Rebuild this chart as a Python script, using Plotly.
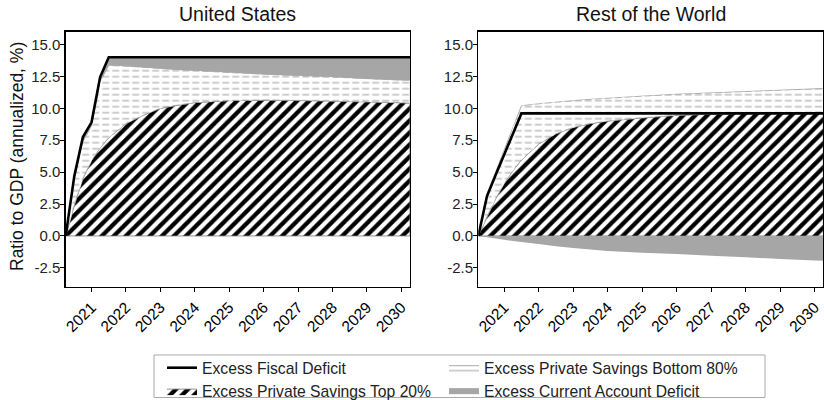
import plotly.graph_objects as go

# ---------------- data ----------------
years = [2020.25, 2020.5, 2020.75, 2021.0, 2021.25, 2021.5, 2022.0, 2022.5,
         2023.0, 2023.5, 2024.0, 2025.0, 2026.0, 2027.0, 2028.0, 2029.0,
         2030.0, 2030.25]

# United States
us_fiscal = [0, 4.7, 7.75, 8.9, 12.45, 14.0, 14.0, 14.0, 14.0, 14.0, 14.0,
             14.0, 14.0, 14.0, 14.0, 14.0, 14.0, 14.0]
us_top20 = [0, 2.4, 4.5, 5.9, 6.9, 7.7, 8.8, 9.45, 10.0, 10.25, 10.45, 10.6,
            10.65, 10.65, 10.6, 10.5, 10.45, 10.4]
us_total = [0, 4.4, 7.4, 8.6, 12.1, 13.35, 13.3, 13.2, 13.1, 13.0, 12.95,
            12.8, 12.65, 12.55, 12.45, 12.3, 12.2, 12.2]

# Rest of the World
row_fiscal = [0, 3.1, 4.75, 6.4, 8.0, 9.6, 9.6, 9.6, 9.6, 9.6, 9.6, 9.6,
              9.6, 9.6, 9.6, 9.6, 9.6, 9.6]
row_top20 = [0, 1.5, 2.9, 4.1, 5.1, 5.95, 7.2, 8.0, 8.5, 8.8, 9.0, 9.25,
             9.45, 9.55, 9.6, 9.65, 9.7, 9.7]
row_total = [0, 3.3, 5.0, 6.7, 8.45, 10.2, 10.35, 10.5, 10.6, 10.7, 10.8,
             10.95, 11.1, 11.2, 11.3, 11.4, 11.5, 11.55]
row_ca = [0, -0.1, -0.2, -0.3, -0.4, -0.47, -0.63, -0.8, -0.95, -1.07, -1.17,
          -1.32, -1.42, -1.55, -1.67, -1.8, -1.92, -1.95]
zeros = [0] * len(years)

x_tickvals = [2021, 2022, 2023, 2024, 2025, 2026, 2027, 2028, 2029, 2030]
x_ticktext = ["2021", "2022", "2023", "2024", "2025", "2026", "2027", "2028",
              "2029", "2030"]
y_tickvals = [-2.5, 0, 2.5, 5, 7.5, 10, 12.5, 15]
y_ticktext = ["-2.5", "0.0", "2.5", "5.0", "7.5", "10.0", "12.5", "15.0"]

panel_titles = ["United States", "Rest of the World"]
legend_names = ["Excess Fiscal Deficit", "Excess Private Savings Bottom 80%",
                "Excess Private Savings Top 20%", "Excess Current Account Deficit"]

FONT = "Liberation Sans, Arial, sans-serif"
GRAY = "#a6a6a6"

fig = go.Figure()


def band(lower, upper):
    return years + years[::-1], upper + lower[::-1]


def add_panel(xa, ya, fiscal, top20, total, ca_lower, ca_upper, show):
    # Top 20% (hatched)
    px_, py_ = band(zeros, top20)
    fig.add_trace(go.Scatter(
        x=px_, y=py_, xaxis=xa, yaxis=ya, mode="lines", fill="toself",
        line=dict(color="#777777", width=0.8),
        fillcolor="white",
        fillpattern=dict(shape="/", fgcolor="black", bgcolor="white",
                         size=8.5, solidity=0.5),
        name=legend_names[2], legend="legend", legendrank=2,
        showlegend=show, hoverinfo="skip"))
    # Bottom 80% (dashed)
    px_, py_ = band(top20, total)
    fig.add_trace(go.Scatter(
        x=px_, y=py_, xaxis=xa, yaxis=ya, mode="lines", fill="toself",
        line=dict(color="#999999", width=0.8),
        fillcolor="white",
        fillpattern=dict(shape="-", fgcolor="#bcbcbc", bgcolor="white",
                         size=6, solidity=0.25),
        name=legend_names[1], legend="legend2", legendrank=1,
        showlegend=show, hoverinfo="skip"))
    # break the horizontal lines into dashes
    fig.add_trace(go.Scatter(
        x=px_, y=py_, xaxis=xa, yaxis=ya, mode="none", fill="toself",
        fillcolor="rgba(0,0,0,0)",
        fillpattern=dict(shape="|", fgcolor="white", bgcolor="rgba(0,0,0,0)",
                         size=10, solidity=0.3),
        showlegend=False, hoverinfo="skip"))
    # Current account deficit (gray)
    px_, py_ = band(ca_lower, ca_upper)
    fig.add_trace(go.Scatter(
        x=px_, y=py_, xaxis=xa, yaxis=ya, mode="none", fill="toself",
        fillcolor=GRAY, name=legend_names[3], legend="legend2", legendrank=2,
        showlegend=show, hoverinfo="skip"))
    # Fiscal deficit line
    fig.add_trace(go.Scatter(
        x=years, y=fiscal, xaxis=xa, yaxis=ya, mode="lines",
        line=dict(color="black", width=2.6),
        name=legend_names[0], legend="legend", legendrank=1,
        showlegend=show, hoverinfo="skip"))


add_panel("x", "y", us_fiscal, us_top20, us_total, us_total, us_fiscal, True)
add_panel("x2", "y2", row_fiscal, row_top20, row_total, row_ca, zeros, False)

W, H = 824, 400
dom_l = [65.7 / W, 410.0 / W]
dom_r = [478.3 / W, 823.3 / W]
dom_y = [1 - 287.0 / H, 1 - 31.7 / H]

axis_common = dict(
    showline=True, mirror=True, linecolor="black", linewidth=1.3,
    showgrid=False, zeroline=False, ticks="outside", ticklen=4,
    tickcolor="black", tickwidth=1, automargin=False,
)

xcommon = dict(axis_common, range=[2020.25, 2030.25], tickvals=x_tickvals,
               ticktext=x_ticktext, tickangle=-45,
               tickfont=dict(family=FONT, size=15.5, color="black"))
ycommon = dict(axis_common, range=[-4, 16], tickvals=y_tickvals,
               ticktext=y_ticktext, ticklabelstandoff=-3,
               tickfont=dict(family=FONT, size=15, color="#222222"))

legend_common = dict(
    orientation="v", xanchor="left", yanchor="top", y=1 - 351 / H,
    bgcolor="rgba(0,0,0,0)", borderwidth=0,
    font=dict(family=FONT, size=15.7, color="#222222"),
    itemwidth=30, traceorder="normal",
)

fig.update_layout(
    width=W, height=H,
    margin=dict(l=0, r=0, t=0, b=0, autoexpand=False),
    paper_bgcolor="white", plot_bgcolor="white",
    template=None,
    xaxis=dict(xcommon, domain=dom_l, anchor="y"),
    yaxis=dict(ycommon, domain=dom_y, anchor="x"),
    xaxis2=dict(xcommon, domain=dom_r, anchor="y2"),
    yaxis2=dict(ycommon, domain=dom_y, anchor="x2"),
    showlegend=True,
    legend=dict(legend_common, x=162 / W),
    legend2=dict(legend_common, x=444 / W),
    shapes=[dict(type="rect", xref="paper", yref="paper",
                 x0=154 / W, x1=765 / W, y0=1 - 397.5 / H, y1=1 - 355 / H,
                 line=dict(color="#aaaaaa", width=1), fillcolor="rgba(0,0,0,0)",
                 layer="below")],
    annotations=[
        dict(text=panel_titles[0], x=(dom_l[0] + dom_l[1]) / 2, y=1 - 14 / H,
             xref="paper", yref="paper", showarrow=False, xanchor="center",
             yanchor="middle",
             font=dict(family=FONT, size=19.5, color="#111111")),
        dict(text=panel_titles[1], x=(dom_r[0] + dom_r[1]) / 2, y=1 - 14 / H,
             xref="paper", yref="paper", showarrow=False, xanchor="center",
             yanchor="middle",
             font=dict(family=FONT, size=19.5, color="#111111")),
        dict(text="Ratio to GDP (annualized, %)", x=17 / W, y=1 - 157 / H,
             xref="paper", yref="paper", showarrow=False, textangle=-90,
             xanchor="center", yanchor="middle",
             font=dict(family=FONT, size=17.5, color="#111111")),
    ],
)

fig.write_html("out.html",
               config={"displayModeBar": False, "staticPlot": True},
               post_script="document.body.style.margin='0';"
                           "document.body.style.overflow='hidden';")
